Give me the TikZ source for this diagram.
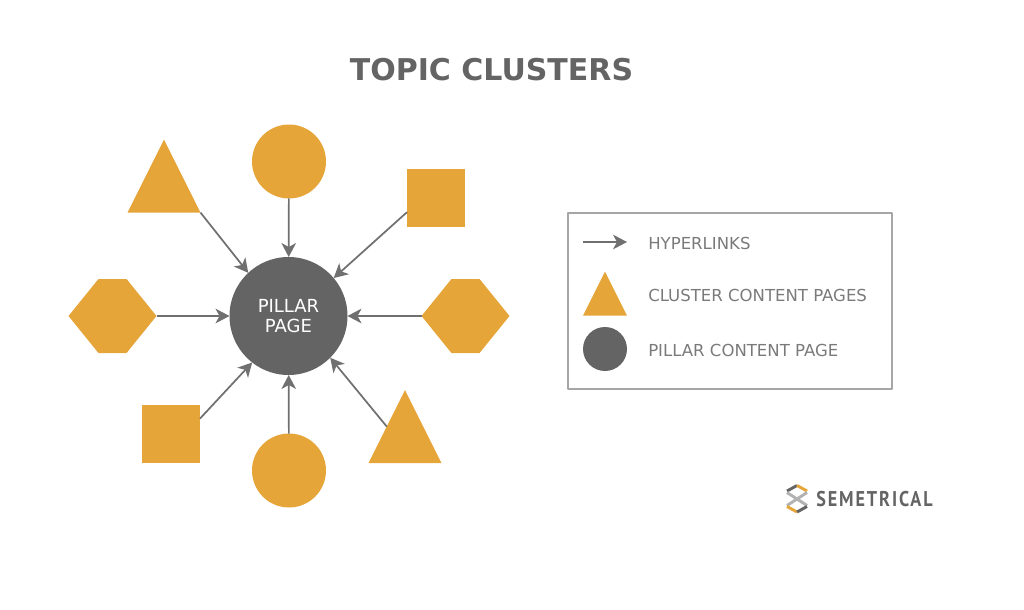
\documentclass[tikz,border=0pt]{standalone}
\usepackage{fontspec}
\setmainfont{DejaVu Sans}
\newfontfamily\logofont[LetterSpace=9,FakeStretch=0.85]{PT Sans}
\usetikzlibrary{arrows.meta,shapes.geometric,shapes.symbols}
\definecolor{clusterorange}{HTML}{E5A539}
\definecolor{pillargray}{HTML}{646464}
\definecolor{linkgray}{HTML}{707070}
\definecolor{labelgray}{HTML}{7A7A7A}
\tikzset{
  clustershape/.style={fill=clusterorange,draw=none,inner sep=0pt,outer sep=0pt},
  roundpage/.style={clustershape,circle,minimum size=55.5},
  squarepage/.style={clustershape,rectangle,minimum size=43.5},
  trianglepage/.style={clustershape,isosceles triangle,isosceles triangle stretches,shape border rotate=90,minimum width=54.75,minimum height=54.75},
  hexpage/.style={clustershape,signal,signal to=east and west,signal pointer angle=102,minimum width=66,minimum height=55.5},
  hyperlink/.style={draw=linkgray,line width=1.3pt,-{Stealth[length=10.5pt,width=11pt,inset=3pt]}},
  legendtext/.style={text=labelgray,anchor=west,font=\fontsize{12.4}{14}\selectfont,inner sep=0pt},
}
\begin{document}
\begin{tikzpicture}[x=0.75pt,y=-0.75pt,line join=round]
  \useasboundingbox (0,0) rectangle (1024,610);
  \node[font=\fontsize{22.5}{26}\selectfont\bfseries,text=pillargray] (title) at (491.5,69.5) {TOPIC CLUSTERS};
  % centre
  \node[circle,fill=pillargray,minimum size=88.5,inner sep=0pt,outer sep=0pt,text=white,align=center,font=\fontsize{13.5}{15}\selectfont] (pillar) at (288.5,316) {PILLAR\\PAGE};
  % cluster pages
  \node[roundpage] (circletop) at (289,161.5) {};
  \node[roundpage] (circlebottom) at (289,470.5) {};
  \node[squarepage] (squaretop) at (436,198) {};
  \node[squarepage] (squarebottom) at (171,434) {};
  \node[trianglepage] (triangletop) at (164,190) {};
  \node[trianglepage] (trianglebottom) at (405,440.5) {};
  \node[hexpage] (hexleft) at (112.5,316) {};
  \node[hexpage] (hexright) at (465.5,316) {};
  % links
  \draw[hyperlink] (circletop) -- (pillar);
  \draw[hyperlink] (circlebottom) -- (pillar);
  \draw[hyperlink] (hexleft) -- (pillar);
  \draw[hyperlink] (hexright) -- (pillar);
  \draw[hyperlink] (triangletop.right corner) -- (pillar.133);
  \draw[hyperlink] (squaretop.206) -- (pillar.40);
  \draw[hyperlink] (squarebottom.28) -- (pillar.232);
  \draw[hyperlink] (trianglebottom.left side) -- (pillar.-45);
  % legend
  \node[draw=black!35,line width=0.9pt,minimum width=243,minimum height=132,inner sep=0pt] (legend) at (730,301) {};
  \coordinate (arrowstart) at (583,242);
  \coordinate (arrowend) at (627,242);
  \draw[hyperlink] (arrowstart) -- (arrowend);
  \node[legendtext] (hyperlinks) at (648,243.5) {HYPERLINKS};
  \node[clustershape,isosceles triangle,isosceles triangle stretches,shape border rotate=90,minimum width=33,minimum height=33] (legendtriangle) at (605,302) {};
  \node[legendtext] (clusterlabel) at (648,295) {CLUSTER CONTENT PAGES};
  \node[circle,fill=pillargray,minimum size=33,inner sep=0pt] (legendcircle) at (605,349) {};
  \node[legendtext] (pillarlabel) at (648,350.5) {PILLAR CONTENT PAGE};
  % logo
  \draw[pillargray,line width=2.2pt] (787,491) -- (797,485.5);
  \draw[clusterorange,line width=2.2pt] (797,485.5) -- (807,491);
  \draw[black!30,line width=2.2pt] (787,492.5) -- (807,505.5);
  \draw[black!30,line width=2.2pt] (807,492.5) -- (787,505.5);
  \draw[clusterorange,line width=2.2pt] (787,506.5) -- (797,512);
  \draw[pillargray,line width=2.2pt] (797,512) -- (807,506.5);
  \node[anchor=west,inner sep=0pt,text=pillargray,font=\logofont\bfseries\fontsize{16}{18}\selectfont] (logo) at (816,499) {SEMETRICAL};
\end{tikzpicture}
\end{document}
